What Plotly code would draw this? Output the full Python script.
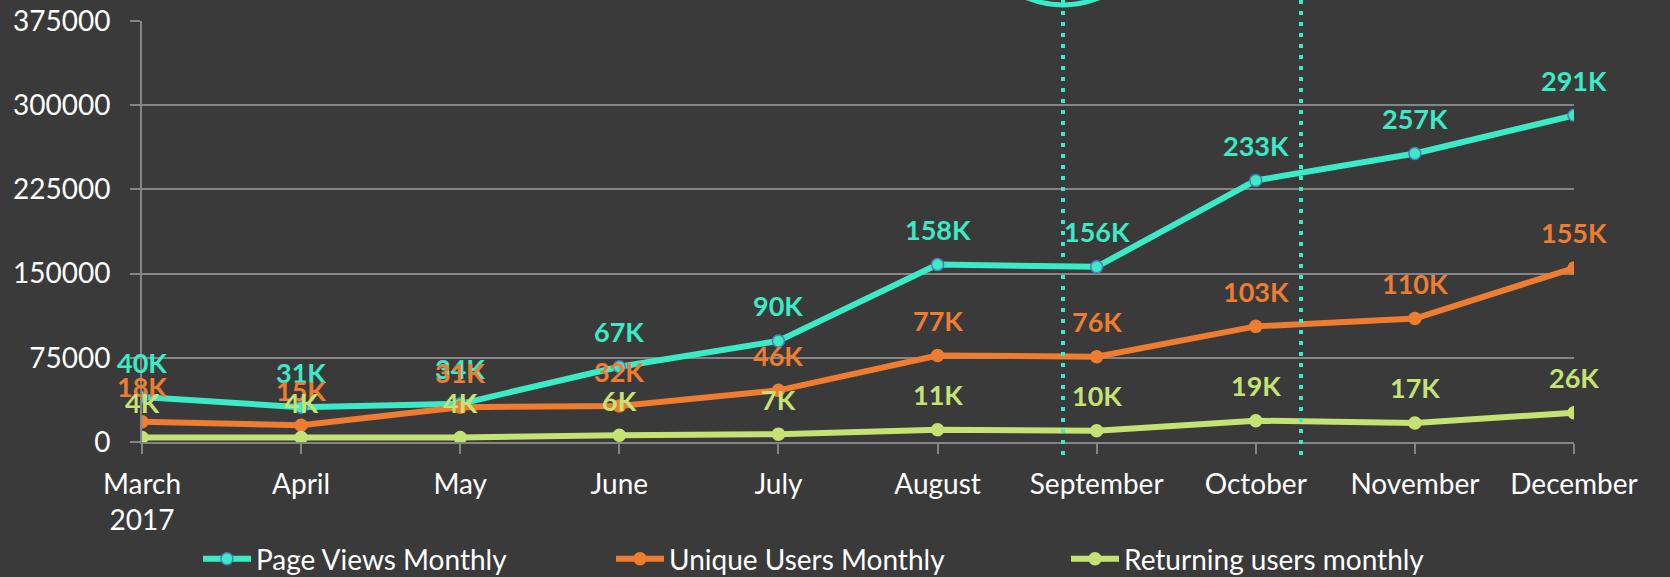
import plotly.graph_objects as go

months = ["March<br>2017", "April", "May", "June", "July", "August",
          "September", "October", "November", "December"]
page_views = [40000, 31000, 34000, 67000, 90000, 158000, 156000, 233000, 257000, 291000]
unique_users = [18000, 15000, 31000, 32000, 46000, 77000, 76000, 103000, 110000, 155000]
returning_users = [4000, 4000, 4000, 6000, 7000, 11000, 10000, 19000, 17000, 26000]
y_ticks = [0, 75000, 150000, 225000, 300000, 375000]

TEAL = "#3BEAC6"
ORANGE = "#EE7D31"
GREEN = "#C4E374"
BG = "#3A3A3A"
GRID = "#858585"
FONT = "Lato"

L, R, T, B = 142, 1574, 21, 442
def px(xp):
    return (xp - L) / (R - L)
def py(yp):
    return (B - yp) / (B - T)

series = [
    ("Page Views Monthly", page_views, TEAL, "#4A7EBB", "legend", 198),
    ("Unique Users Monthly", unique_users, ORANGE, ORANGE, "legend2", 611),
    ("Returning users monthly", returning_users, GREEN, GREEN, "legend3", 1066),
]

fig = go.Figure()
annotations = []
legends = {}
for name, vals, col, mline, leg, lx in series:
    fig.add_trace(go.Scatter(
        x=months, y=vals, name=name, mode="lines+markers",
        line=dict(color=col, width=6),
        marker=dict(color=col, size=12, line=dict(color=mline, width=1.5)),
        hoverinfo="skip", legend=leg,
    ))
    legends[leg] = dict(
        orientation="h", x=px(lx), xanchor="left", y=py(559), yanchor="middle",
        font=dict(family=FONT, size=28, color="#FFFFFF"),
        itemwidth=48, bgcolor="rgba(0,0,0,0)",
    )
    for m, v in zip(months, vals):
        annotations.append(dict(
            x=m, y=v, xref="x", yref="y", text=f"{round(v / 1000)}K",
            showarrow=False, yshift=35,
            font=dict(family=FONT, size=27, color=col, weight="bold"),
        ))

# decorative dotted markers and circle (paper coordinates, outside plot allowed)
shapes = []
for xv in (1063, 1301):
    shapes.append(dict(type="line", xref="paper", yref="paper",
                       x0=px(xv), x1=px(xv), y0=py(0), y1=py(458),
                       line=dict(color=TEAL, width=4, dash="4px,7px")))
shapes.append(dict(type="circle", xref="paper", yref="paper",
                   x0=px(970), x1=px(1156), y0=py(-180), y1=py(5),
                   line=dict(color=TEAL, width=5)))

fig.update_layout(
    width=1670, height=577,
    paper_bgcolor=BG, plot_bgcolor=BG,
    margin=dict(l=L, r=1670 - R, t=T, b=577 - B, autoexpand=False),
    font=dict(family=FONT, size=28, color="#FFFFFF"),
    showlegend=True,
    annotations=annotations,
    shapes=shapes,
    **legends,
)
fig.update_xaxes(
    type="category", range=[0, 9], showgrid=False,
    showline=True, linecolor=GRID, linewidth=2,
    ticks="outside", ticklen=10, tickwidth=2, tickcolor=GRID,
    tickfont=dict(family=FONT, size=28, color="#FFFFFF"),
    ticklabelstandoff=6,
    zeroline=False,
)
fig.update_yaxes(
    range=[0, 375000], tickvals=y_ticks, tickformat="d",
    showgrid=True, gridcolor=GRID, gridwidth=2,
    showline=True, linecolor=GRID, linewidth=2,
    ticks="outside", ticklen=10, tickwidth=2, tickcolor=GRID,
    tickfont=dict(family=FONT, size=28, color="#FFFFFF"),
    ticklabelstandoff=14,
    zeroline=False,
)

fig.write_html(
    "out.html",
    config={"displayModeBar": False},
    post_script="document.body.style.margin='0';document.body.style.background='#3A3A3A';document.body.style.overflow='hidden';",
)
